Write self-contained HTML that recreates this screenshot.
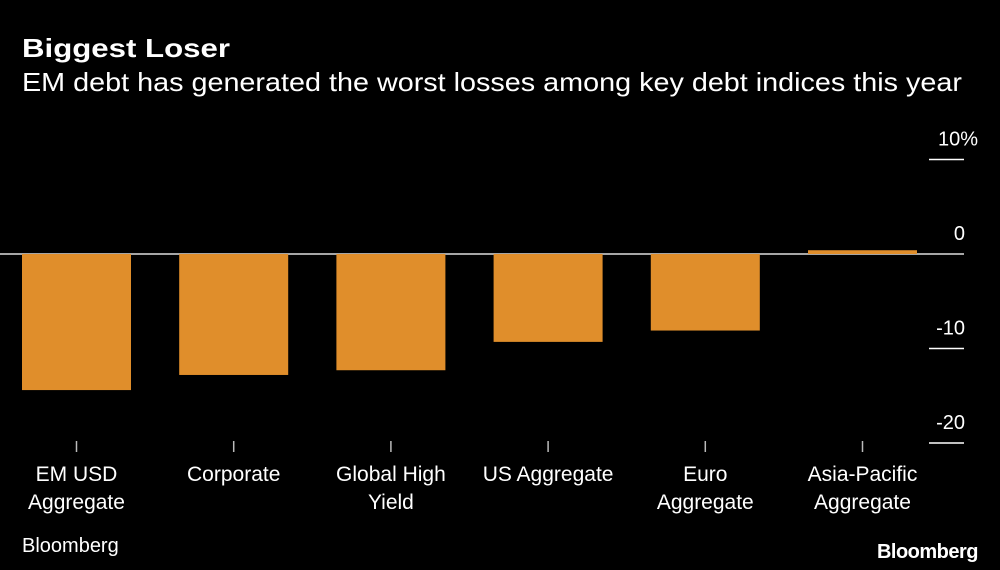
<!DOCTYPE html>
<html><head><meta charset="utf-8"><style>
html,body{margin:0;padding:0;background:#000;}
svg{display:block;font-family:"Liberation Sans","DejaVu Sans",sans-serif;}
</style></head><body>
<svg id="chart" width="1000" height="570" viewBox="0 0 1000 570" xmlns="http://www.w3.org/2000/svg">
<rect width="1000" height="570" fill="#000"/>
<text x="22" y="57" fill="#fff" font-size="26" font-weight="bold" textLength="208" lengthAdjust="spacingAndGlyphs">Biggest Loser</text>
<text x="22" y="91" fill="#fff" font-size="26" textLength="940" lengthAdjust="spacingAndGlyphs">EM debt has generated the worst losses among key debt indices this year</text>
<g id="grid"></g>
<g id="bars"></g>
<g id="yaxis"></g>
<g id="xaxis"></g>
<text x="22" y="552" fill="#fff" font-size="20">Bloomberg</text>
<text x="978" y="558" fill="#fff" font-size="20" font-weight="bold" text-anchor="end" letter-spacing="-0.5">Bloomberg</text>
</svg>
<script>
const categories = [["EM USD","Aggregate"],["Corporate"],["Global High","Yield"],["US Aggregate"],["Euro","Aggregate"],["Asia-Pacific","Aggregate"]];
const values = [-14.4, -12.8, -12.3, -9.3, -8.1, 0.4];
const yTicks = [10, 0, -10, -20];
const yTickLabels = ["10%", "0", "-10", "-20"];
const NS = "http://www.w3.org/2000/svg";
const y0 = 254, pxPerUnit = 9.45;
function yScale(v){ return y0 - v * pxPerUnit; }
const step = 157.2, barW = 109, x0 = 22;
function xCenter(i){ return x0 + barW/2 + i*step; }
function mk(tag, attrs, parent){ const e=document.createElementNS(NS,tag); for(const k in attrs) e.setAttribute(k,attrs[k]); parent.appendChild(e); return e; }
const bars=document.getElementById('bars'), yaxis=document.getElementById('yaxis'), xaxis=document.getElementById('xaxis'), grid=document.getElementById('grid');
values.forEach((v,i)=>{
  const top=Math.min(yScale(v),y0), h=Math.abs(yScale(v)-y0);
  const r=mk('rect',{x:xCenter(i)-barW/2,y:top,width:barW,height:h,fill:'#e08e2b'},bars);
  
  
  const t=mk('line',{x1:xCenter(i),x2:xCenter(i),y1:441,y2:452,stroke:'#bbb','stroke-width':1.5},xaxis);
  
  
  const tx=mk('text',{x:xCenter(i),y:481,fill:'#fff','font-size':21,'text-anchor':'middle'},xaxis);
  
  
  categories[i].forEach((ln,j)=>{ const ts=mk('tspan',{x:xCenter(i),dy:j?28:0},tx); ts.textContent=ln; });
});
const zl=mk('line',{x1:0,x2:964,y1:y0,y2:y0,stroke:'#ddd','stroke-width':1.5},grid);


// bars drawn over zero line except asia: keep line under bars
grid.parentNode.insertBefore(grid,bars);
yTicks.forEach((v,i)=>{
  const y=yScale(v);
  if(v!==0){
    const l=mk('line',{x1:929,x2:964,y1:y,y2:y,stroke:'#fff','stroke-width':1.5},yaxis);
    
    
  }
  const t=mk('text',{x:965,y:y-14,fill:'#fff','font-size':20,'text-anchor':'end'},yaxis);
  
  
  t.textContent=yTickLabels[i];
  if(v===10){ t.setAttribute('x',978); }
});
</script>
</body></html>
